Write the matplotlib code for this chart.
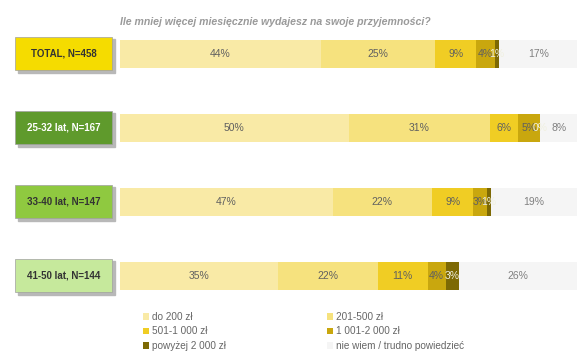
import numpy as np
import matplotlib.pyplot as plt
from matplotlib.patches import Rectangle, Patch
from matplotlib.transforms import blended_transform_factory

plt.rcParams['font.family'] = ['Liberation Sans Narrow', 'Liberation Sans', 'DejaVu Sans']

title = 'Ile mniej więcej miesięcznie wydajesz na swoje przyjemności?'
groups = ['TOTAL, N=458', '25-32 lat, N=167', '33-40 lat, N=147', '41-50 lat, N=144']
categories = ['do 200 zł', '201-500 zł', '501-1 000 zł', '1 001-2 000 zł',
              'powyżej 2 000 zł', 'nie wiem / trudno powiedzieć']
values = np.array([
    [44, 25, 9, 4, 1, 17],
    [50, 31, 6, 5, 0, 8],
    [47, 22, 9, 3, 1, 19],
    [35, 22, 11, 4, 3, 26],
])

colors = ['#f9eaa6', '#f6e27e', '#f0cd24', '#c9a70e', '#7d6904', '#f5f5f5']
text_colors = ['#606060', '#606060', '#606060', '#606060', '#f0f0e0', '#808080']
box_colors = ['#f5dc00', '#5f9a2c', '#8fc940', '#c6e99c']
box_text = ['#333333', '#ffffff', '#333333', '#333333']

# each row fills the full width (100% stacked)
shares = values / values.sum(axis=1, keepdims=True) * 100

fig = plt.figure(figsize=(5.8, 3.59), dpi=100)
ax = fig.add_axes([120 / 580, (359 - 313) / 359, 457 / 580, 296 / 359])

y = np.arange(len(groups))
left = np.zeros(len(groups))
for j, cat in enumerate(categories):
    w = shares[:, j]
    ax.barh(y, w, left=left, height=0.39, color=colors[j], label=cat)
    for i in range(len(groups)):
        ax.text(left[i] + w[i] / 2, y[i], f'{values[i, j]}%', ha='center', va='center',
                fontsize=7.5, color=text_colors[j], clip_on=False)
    left = left + w

ax.set_xlim(0, 100)
ax.set_ylim(len(groups) - 0.5, -0.5)
ax.axis('off')

# group label boxes on the left
tr = blended_transform_factory(ax.transAxes, ax.transData)
bw = 97 / 457
bx = -105 / 457
for i, g in enumerate(groups):
    ax.add_patch(Rectangle((bx + 0.006, y[i] - 0.2), bw, 0.45, transform=tr,
                           color='#b8b8b8', clip_on=False, zorder=1))
    ax.add_patch(Rectangle((bx, y[i] - 0.23), bw, 0.45, transform=tr,
                           facecolor=box_colors[i], edgecolor='#a0a0a0', lw=0.5,
                           clip_on=False, zorder=2))
    ax.text(bx + bw / 2, y[i] - 0.005, g, transform=tr, ha='center', va='center',
            fontsize=7, fontweight='bold', color=box_text[i], zorder=3)

fig.text(275 / 580, 1 - 22 / 359, title, ha='center', va='center', fontsize=7.6,
         style='italic', fontweight='bold', color='#9a9a9a')

handles = [Patch(facecolor=c, edgecolor='none') for c in colors]
order = [0, 2, 4, 1, 3, 5]
leg = fig.legend([handles[k] for k in order], [categories[k] for k in order],
                 ncol=2, loc='upper left', bbox_to_anchor=(143 / 580, 1 - 312 / 359),
                 frameon=False, fontsize=7.2, handlelength=0.6, handleheight=0.6,
                 handletextpad=0.3, columnspacing=10.1, labelspacing=0.45,
                 borderpad=0, borderaxespad=0)
for t in leg.get_texts():
    t.set_color('#666666')

fig.savefig('out.png', dpi=100, facecolor='white')
